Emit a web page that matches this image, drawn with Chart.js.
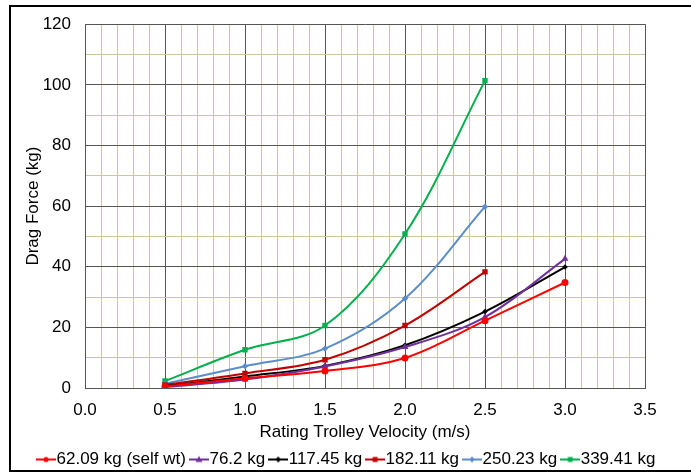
<!DOCTYPE html>
<html>
<head>
<meta charset="utf-8">
<script src="https://cdn.jsdelivr.net/npm/chart.js@4"></script>
<style>
  html, body { margin: 0; padding: 0; background: #fff; }
  #wrap { position: relative; width: 691px; height: 473px; overflow: hidden; }
  #frame { position: absolute; left: 9px; top: 5px; width: 720px; height: 463px; border: 2px solid #000; }
  #grafico { position: absolute; left: 0; top: 0; }
</style>
</head>
<body>
<div id="wrap">
  <div id="frame"></div>
  <canvas id="grafico" width="691" height="473"></canvas>
</div>
<script>
// Dados
const velLong = [0.5, 1.0, 1.5, 2.0, 2.5, 3.0];
const velShort = [0.5, 1.0, 1.5, 2.0, 2.5];

const seriesNames = ['62.09 kg (self wt)', '76.2 kg', '117.45 kg', '182.11 kg', '250.23 kg', '339.41 kg'];
const force6209 = [0.5, 3.2, 5.6, 9.9, 22.2, 34.8];
const force762 = [0.3, 2.8, 7.1, 13.5, 23.4, 42.6];
const force11745 = [0.6, 3.8, 7.3, 14.1, 25.2, 39.9];
const force18211 = [1.0, 4.8, 9.3, 20.6, 38.3];
const force25023 = [1.4, 7.2, 13.0, 29.5, 59.8];
const force33941 = [2.3, 12.6, 20.6, 50.8, 101.4];

const yTicks = [0, 20, 40, 60, 80, 100, 120];
const xTicks = [0.0, 0.5, 1.0, 1.5, 2.0, 2.5, 3.0, 3.5];

const FONT = "'Liberation Sans', Arial, sans-serif";
const TAM = 17;

function pontos(xs, ys) {
    return ys.map((y, i) => ({ x: xs[i], y: y }));
}

// icone da legenda: linha com marcador no meio
function iconeLegenda(cor, estilo) {
    const c = document.createElement('canvas');
    c.width = 20;
    c.height = 10;
    const g = c.getContext('2d');
    g.strokeStyle = cor;
    g.fillStyle = cor;
    g.lineWidth = 2;
    g.beginPath();
    g.moveTo(0, 5);
    g.lineTo(20, 5);
    g.stroke();
    g.beginPath();
    if (estilo === 'circle') {
        g.arc(10, 5, 2.6, 0, Math.PI * 2);
    } else if (estilo === 'triangle') {
        g.moveTo(10, 1.5); g.lineTo(13.5, 7.5); g.lineTo(6.5, 7.5); g.closePath();
    } else if (estilo === 'rect') {
        g.rect(7.5, 2.5, 5, 5);
    } else {
        g.moveTo(10, 2); g.lineTo(13, 5); g.lineTo(10, 8); g.lineTo(7, 5); g.closePath();
    }
    g.fill();
    return c;
}

const cores = ['#ff0000', '#7030a0', '#000000', '#c00000', '#5b8ccc', '#00b050'];
const marcadores = ['circle', 'triangle', 'rectRot', 'rect', 'rectRot', 'rect'];
const raios = [3.5, 4, 2.8, 3.8, 3.2, 3.8];
const valores = [force6209, force762, force11745, force18211, force25023, force33941];
const velocidades = [velLong, velLong, velLong, velShort, velShort, velShort];

const datasets = seriesNames.map((nome, i) => ({
    label: nome,
    data: pontos(velocidades[i], valores[i]),
    borderColor: cores[i],
    backgroundColor: cores[i],
    borderWidth: 2,
    pointStyle: marcadores[i],
    pointRadius: raios[i],
    pointBorderWidth: 0,
    tension: 0.35,
    fill: false
}));

function ehMultiplo(v, passo) {
    const r = v / passo;
    return Math.abs(r - Math.round(r)) < 1e-6;
}

const ctx = document.getElementById('grafico').getContext('2d');
new Chart(ctx, {
    type: 'line',
    data: { datasets: datasets },
    options: {
        responsive: false,
        animation: false,
        layout: { padding: { left: 33, right: 0, top: 20, bottom: -5 } },
        plugins: {
            title: { display: false },
            tooltip: { enabled: false },
            legend: {
                position: 'bottom',
                align: 'start',
                labels: {
                    color: '#000',
                    font: { family: FONT, size: TAM },
                    usePointStyle: true,
                    pointStyleWidth: 4,
                    padding: 11,
                    generateLabels: function (chart) {
                        return chart.data.datasets.map((ds, i) => ({
                            text: ds.label,
                            fillStyle: ds.borderColor,
                            strokeStyle: ds.borderColor,
                            pointStyle: iconeLegenda(cores[i], marcadores[i]),
                            lineWidth: 0,
                            hidden: false,
                            datasetIndex: i
                        }));
                    }
                }
            }
        },
        scales: {
            x: {
                type: 'linear',
                min: xTicks[0],
                max: xTicks[xTicks.length - 1],
                afterFit: function (scale) { scale.height = 52; },
                title: {
                    display: true,
                    text: 'Rating Trolley Velocity (m/s)',
                    color: '#000',
                    font: { family: FONT, size: TAM },
                    padding: { top: 0, bottom: -3 }
                },
                ticks: {
                    stepSize: 0.1,
                    autoSkip: false,
                    maxRotation: 0,
                    padding: 12,
                    color: '#000',
                    font: { family: FONT, size: TAM },
                    callback: function (v) {
                        return xTicks.some(t => Math.abs(t - v) < 1e-6) ? v.toFixed(1) : '';
                    }
                },
                grid: {
                    drawTicks: false,
                    lineWidth: 1,
                    color: function (c) {
                        return ehMultiplo(c.tick.value, 0.5) ? '#555555' : '#cbc5a2';
                    }
                },
                border: { color: '#555555', width: 1 }
            },
            y: {
                min: yTicks[0],
                max: yTicks[yTicks.length - 1],
                afterFit: function (scale) { scale.width = 52; },
                title: {
                    display: true,
                    text: 'Drag Force (kg)',
                    color: '#000',
                    font: { family: FONT, size: TAM },
                    padding: { top: -10, bottom: 0 }
                },
                ticks: {
                    stepSize: 10,
                    autoSkip: false,
                    padding: 14,
                    color: '#000',
                    font: { family: FONT, size: TAM },
                    callback: function (v) {
                        return yTicks.indexOf(v) >= 0 ? v : '';
                    }
                },
                grid: {
                    drawTicks: false,
                    lineWidth: 1,
                    color: function (c) {
                        return ehMultiplo(c.tick.value, 20) ? '#555555' : '#cbc5a2';
                    }
                },
                border: { color: '#555555', width: 1 }
            },
            // eixo vazio à direita só para reservar a margem do original
            margemDireita: {
                type: 'linear',
                position: 'right',
                afterFit: function (scale) { scale.width = 46; },
                ticks: { display: false },
                grid: { display: false, drawTicks: false },
                border: { display: false }
            }
        }
    }
});
</script>
</body>
</html>
